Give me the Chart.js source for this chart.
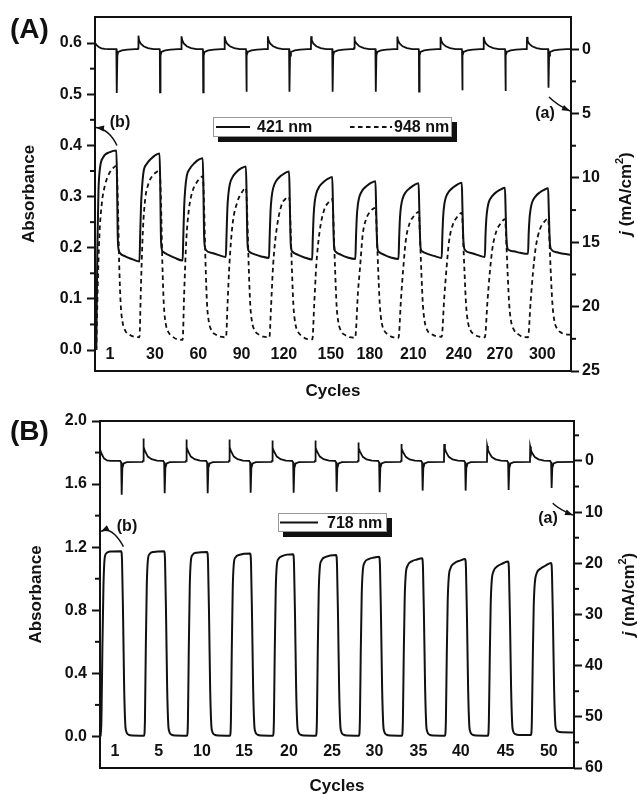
<!DOCTYPE html>
<html>
<head>
<meta charset="utf-8">
<script src="https://cdn.jsdelivr.net/npm/chart.js@4.4.0/dist/chart.umd.min.js"></script>
<style>
  html, body { margin: 0; padding: 0; background: #fff; }
  #wrapA { position: absolute; left: 0; top: 0; width: 637px; height: 400px; }
  #wrapB { position: absolute; left: 0; top: 400px; width: 637px; height: 395px; }
</style>
</head>
<body>
<div id="wrapA"><canvas id="chartA" width="637" height="400"></canvas></div>
<div id="wrapB"><canvas id="chartB" width="637" height="395"></canvas></div>

<script>
// ---- panel A: 421 / 948 nm, time in s (40 s per cycle) ----
const absTicksA = [0, 0.1, 0.2, 0.3, 0.4, 0.5, 0.6];
const absMinorA = [0.05, 0.15, 0.25, 0.35, 0.45, 0.55];
const jTicksA = [0, 5, 10, 15, 20, 25];
const jMinorA = [2.5, 7.5, 12.5, 17.5, 22.5];
const cycleLabelsA = ['1', '30', '60', '90', '120', '150', '180', '210', '240', '270', '300'];
const cycleTimesA = [13.9, 55.6, 95.7, 135.8, 175, 218.5, 254.7, 294.9, 337, 375, 414.4];

const abs421 = [
  [1.2,0.0],[2.2,0.2],[3.2,0.31],[4.6,0.355],[7.4,0.376],[13.9,0.387],[19.8,0.39],
  [20.4,0.33],[21,0.23],[21.6,0.2],[23,0.19],[28,0.183],[34,0.178],[41.2,0.173],
  [41.8,0.22],[42.6,0.28],[43.6,0.318],[45,0.349],[48,0.364],[52,0.374],[56,0.381],[59.8,0.384],
  [60.4,0.33],[61,0.23],[61.6,0.2],[63,0.192],[68,0.186],[74,0.18],[81.2,0.175],
  [81.8,0.22],[82.6,0.28],[83.6,0.315],[85,0.34],[88,0.355],[92,0.365],[96,0.372],[99.8,0.375],
  [100.4,0.32],[101,0.23],[101.6,0.205],[103,0.195],[108,0.19],[114,0.186],[121.2,0.182],
  [121.8,0.22],[122.6,0.275],[123.6,0.305],[125,0.325],[128,0.34],[132,0.35],[136,0.356],[139.8,0.359],
  [140.4,0.31],[141,0.23],[141.6,0.2],[143,0.192],[148,0.187],[154,0.183],[161.2,0.18],
  [161.8,0.22],[162.6,0.27],[163.6,0.298],[165,0.316],[168,0.331],[172,0.34],[176,0.346],[179.8,0.349],
  [180.4,0.3],[181,0.23],[181.6,0.2],[183,0.192],[188,0.186],[194,0.181],[201.2,0.177],
  [201.8,0.22],[202.6,0.265],[203.6,0.29],[205,0.306],[208,0.32],[212,0.329],[216,0.335],[219.8,0.338],
  [220.4,0.29],[221,0.23],[221.6,0.2],[223,0.192],[228,0.186],[234,0.181],[241.2,0.178],
  [241.8,0.22],[242.6,0.262],[243.6,0.285],[245,0.3],[248,0.313],[252,0.321],[256,0.327],[259.8,0.33],
  [260.4,0.285],[261,0.23],[261.6,0.2],[263,0.192],[268,0.186],[274,0.181],[281.2,0.178],
  [281.8,0.22],[282.6,0.26],[283.6,0.282],[285,0.296],[288,0.309],[292,0.317],[296,0.323],[299.8,0.326],
  [300.4,0.28],[301,0.23],[301.6,0.2],[303,0.193],[308,0.188],[314,0.184],[321.2,0.18],
  [321.8,0.222],[322.6,0.262],[323.6,0.284],[325,0.298],[328,0.31],[332,0.318],[336,0.324],[339.8,0.327],
  [340.4,0.28],[341,0.23],[341.6,0.205],[343,0.195],[348,0.19],[354,0.186],[361.2,0.182],
  [361.8,0.225],[362.6,0.258],[363.6,0.277],[365,0.29],[368,0.301],[372,0.309],[376,0.314],[379.8,0.317],
  [380.4,0.275],[381,0.23],[381.6,0.205],[383,0.196],[388,0.193],[394,0.19],[401.2,0.188],
  [401.8,0.228],[402.6,0.258],[403.6,0.276],[405,0.289],[408,0.3],[412,0.308],[416,0.313],[419.8,0.316],
  [420.4,0.275],[421,0.23],[421.6,0.205],[423,0.196],[428,0.191],[434,0.188],[441,0.186]
];

const abs948 = [
  [1.2,0.0],[2.5,0.12],[4,0.22],[6.5,0.29],[9,0.32],[12,0.34],[16.5,0.355],[19.8,0.36],
  [20.4,0.345],[21.4,0.27],[22.4,0.17],[23.8,0.09],[25.5,0.055],[28,0.038],[32,0.03],[36,0.026],
  [41.2,0.025],[42.5,0.12],[44.4,0.235],[46.5,0.295],[49.5,0.325],[53,0.34],[57,0.348],[59.8,0.352],
  [60.4,0.337],[61.4,0.265],[62.4,0.17],[63.8,0.088],[65.5,0.052],[68,0.035],[72,0.026],[76,0.021],
  [81.2,0.02],[82.6,0.11],[84.6,0.215],[87,0.275],[90,0.308],[94,0.327],[97.5,0.336],[99.8,0.34],
  [100.4,0.325],[101.4,0.255],[102.4,0.17],[103.8,0.09],[105.5,0.055],[108,0.038],[112,0.03],[116,0.026],
  [121.4,0.025],[122.8,0.09],[124.6,0.17],[127.4,0.245],[132,0.29],[136,0.308],[139.8,0.317],
  [140.4,0.302],[141.4,0.24],[142.4,0.165],[143.8,0.09],[145.5,0.055],[148,0.038],[152,0.03],[156,0.026],
  [161.6,0.025],[163,0.08],[165,0.165],[168,0.232],[172.6,0.282],[176.7,0.296],[179.8,0.3],
  [180.4,0.286],[181.4,0.225],[182.4,0.16],[183.8,0.088],[185.5,0.053],[188,0.036],[192,0.027],[196,0.022],
  [201.4,0.021],[203,0.085],[205,0.165],[208,0.23],[212,0.272],[216,0.288],[219.8,0.295],
  [220.4,0.28],[221.4,0.22],[222.4,0.16],[223.8,0.088],[225.5,0.054],[228,0.037],[232,0.029],[236,0.025],
  [241,0.024],[243.7,0.115],[245.6,0.163],[248,0.225],[251,0.255],[254.8,0.27],[259.8,0.278],
  [260.4,0.265],[261.4,0.21],[262.4,0.155],[263.8,0.09],[265.5,0.055],[268,0.038],[272,0.03],[276,0.025],
  [281.2,0.024],[283.5,0.1],[285.6,0.16],[288,0.215],[291.5,0.248],[295.5,0.262],[299.8,0.27],
  [300.4,0.257],[301.4,0.205],[302.4,0.15],[303.8,0.088],[305.5,0.055],[308,0.038],[312,0.031],[316,0.027],
  [321.2,0.026],[323.5,0.1],[325.6,0.158],[328,0.212],[331.5,0.245],[335.5,0.26],[339.8,0.268],
  [340.4,0.255],[341.4,0.2],[342.4,0.15],[343.8,0.088],[345.5,0.055],[348,0.038],[352,0.03],[356,0.026],
  [361.2,0.025],[363.6,0.095],[365.8,0.152],[368.3,0.2],[372,0.233],[376,0.248],[379.8,0.256],
  [380.4,0.244],[381.4,0.195],[382.4,0.145],[383.8,0.088],[385.5,0.056],[388,0.04],[392,0.031],[396,0.026],
  [401.2,0.025],[403.6,0.095],[405.8,0.152],[408.3,0.2],[412,0.235],[416,0.25],[419.8,0.257],
  [420.4,0.245],[421.4,0.195],[422.4,0.145],[423.8,0.09],[425.5,0.058],[428,0.042],[432,0.034],[436,0.031],[441,0.03]
];

// current density, mA/cm2 (right axis, reversed)
const currentA = [
  [0,-0.5],[1.5,-0.32],[3.5,-0.17],[6,-0.07],[9,-0.02],[13,0],
  [19.8,0],[20.05,0.1],[20.25,3.4],[20.7,0.5],[21.5,0.22],[25,0.1],[30,0.03],[37,0],
  [39.8,0],[40.05,-0.1],[40.25,-1.05],[40.8,-0.7],[42.2,-0.45],[45,-0.23],[49,-0.08],[54,0],
  [59.8,0],[60.05,0.1],[60.25,3.35],[60.7,0.5],[61.5,0.22],[65,0.1],[70,0.03],[77,0],
  [79.8,0],[80.05,-0.1],[80.25,-1.0],[80.8,-0.7],[82.2,-0.45],[85,-0.23],[89,-0.08],[94,0],
  [99.8,0],[100.05,0.1],[100.25,3.35],[100.7,0.5],[101.5,0.22],[105,0.1],[110,0.03],[117,0],
  [119.8,0],[120.05,-0.1],[120.25,-1.0],[120.8,-0.7],[122.2,-0.45],[125,-0.23],[129,-0.08],[134,0],
  [139.8,0],[140.05,0.1],[140.25,3.3],[140.7,0.5],[141.5,0.22],[145,0.1],[150,0.03],[157,0],
  [159.8,0],[160.05,-0.1],[160.25,-1.0],[160.8,-0.7],[162.2,-0.45],[165,-0.23],[169,-0.08],[174,0],
  [179.8,0],[180.05,0.1],[180.25,3.3],[180.7,0.5],[181.5,0.22],[185,0.1],[190,0.03],[197,0],
  [199.8,0],[200.05,-0.1],[200.25,-1.0],[200.8,-0.7],[202.2,-0.45],[205,-0.23],[209,-0.08],[214,0],
  [219.8,0],[220.05,0.1],[220.25,3.3],[220.7,0.5],[221.5,0.22],[225,0.1],[230,0.03],[237,0],
  [239.8,0],[240.05,-0.1],[240.25,-0.98],[240.8,-0.68],[242.2,-0.44],[245,-0.22],[249,-0.08],[254,0],
  [259.8,0],[260.05,0.1],[260.25,3.3],[260.7,0.5],[261.5,0.22],[265,0.1],[270,0.03],[277,0],
  [279.8,0],[280.05,-0.1],[280.25,-0.98],[280.8,-0.68],[282.2,-0.44],[285,-0.22],[289,-0.08],[294,0],
  [299.8,0],[300.05,0.1],[300.25,3.3],[300.7,0.5],[301.5,0.22],[305,0.1],[310,0.03],[317,0],
  [319.8,0],[320.05,-0.1],[320.25,-0.95],[320.8,-0.66],[322.2,-0.43],[325,-0.22],[329,-0.08],[334,0],
  [339.8,0],[340.05,0.1],[340.25,3.2],[340.7,0.5],[341.5,0.22],[345,0.1],[350,0.03],[357,0],
  [359.8,0],[360.05,-0.1],[360.25,-0.95],[360.8,-0.66],[362.2,-0.43],[365,-0.22],[369,-0.08],[374,0],
  [379.8,0],[380.05,0.1],[380.25,3.25],[380.7,0.5],[381.5,0.22],[385,0.1],[390,0.03],[397,0],
  [399.8,0],[400.05,-0.1],[400.25,-0.95],[400.8,-0.66],[402.2,-0.43],[405,-0.22],[409,-0.08],[414,0],
  [419.8,0],[420.05,0.1],[420.25,3.0],[420.7,0.5],[421.5,0.22],[425,0.1],[430,0.03],[437,0],[441,0]
];

// ---- panel B: 718 nm ----
const absTicksB = [0, 0.4, 0.8, 1.2, 1.6, 2.0];
const absMinorB = [0.2, 0.6, 1.0, 1.4, 1.8];
const jTicksB = [0, 10, 20, 30, 40, 50, 60];
const jMinorB = [-5, 5, 15, 25, 35, 45, 55];
const cycleLabelsB = ['1', '5', '10', '15', '20', '25', '30', '35', '40', '45', '50'];
const cycleTimesB = [14, 54.6, 94.9, 134, 175.8, 215.9, 255.3, 296.3, 335.7, 377.3, 417.6];

const abs718 = [
  [0.5,0.0],[1.3,0.1],[2.2,0.55],[3.2,0.95],[4.2,1.12],[5.7,1.16],[9,1.172],[19.6,1.175],
  [20.5,1.115],[21.5,0.75],[22.5,0.3],[23.5,0.08],[24.5,0.03],[26.5,0.012],[30,0.006],
  [41,0.005],[41.8,0.1],[42.6,0.55],[43.5,0.95],[44.5,1.115],[46,1.155],[50,1.17],[59.6,1.175],
  [60.5,1.115],[61.5,0.75],[62.5,0.3],[63.5,0.08],[64.5,0.03],[66.5,0.012],[70,0.006],
  [81,0.005],[81.8,0.1],[82.6,0.55],[83.5,0.95],[84.5,1.11],[86,1.15],[90,1.165],[99.6,1.17],
  [100.5,1.11],[101.5,0.75],[102.5,0.3],[103.5,0.08],[104.5,0.03],[106.5,0.012],[110,0.006],
  [121,0.005],[121.8,0.1],[122.6,0.55],[123.5,0.94],[124.5,1.095],[126,1.135],[130,1.152],[139.6,1.16],
  [140.5,1.1],[141.5,0.74],[142.5,0.3],[143.5,0.08],[144.5,0.03],[146.5,0.012],[150,0.006],
  [161,0.005],[161.8,0.1],[162.6,0.55],[163.5,0.93],[164.5,1.085],[166,1.125],[170,1.145],[179.6,1.155],
  [180.5,1.095],[181.5,0.74],[182.5,0.3],[183.5,0.08],[184.5,0.03],[186.5,0.012],[190,0.006],
  [201,0.005],[201.8,0.1],[202.6,0.54],[203.5,0.92],[204.5,1.07],[206,1.115],[210,1.138],[219.6,1.15],
  [220.5,1.09],[221.5,0.74],[222.5,0.3],[223.5,0.08],[224.5,0.03],[226.5,0.012],[230,0.006],
  [241,0.005],[241.8,0.1],[242.6,0.53],[243.5,0.9],[244.5,1.05],[246,1.1],[250,1.125],[255,1.134],[259.6,1.14],
  [260.5,1.08],[261.5,0.73],[262.5,0.3],[263.5,0.08],[264.5,0.03],[266.5,0.012],[270,0.006],
  [281,0.005],[281.8,0.1],[282.6,0.52],[283.5,0.88],[284.5,1.03],[286,1.08],[290,1.11],[295,1.122],[299.6,1.13],
  [300.5,1.07],[301.5,0.72],[302.5,0.3],[303.5,0.08],[304.5,0.03],[306.5,0.012],[310,0.006],
  [321,0.005],[321.8,0.1],[322.6,0.5],[323.5,0.86],[324.5,1.01],[326,1.065],[330,1.1],[335,1.115],[339.6,1.125],
  [340.5,1.065],[341.5,0.72],[342.5,0.3],[343.5,0.08],[344.5,0.03],[346.5,0.012],[350,0.006],
  [361,0.005],[361.8,0.1],[362.6,0.48],[363.5,0.84],[364.5,0.99],[366,1.045],[370,1.08],[375,1.098],[379.6,1.11],
  [380.5,1.05],[381.5,0.71],[382.5,0.3],[383.5,0.08],[384.5,0.032],[386.5,0.015],[390,0.01],
  [401,0.01],[401.8,0.1],[402.6,0.47],[403.5,0.82],[404.5,0.97],[406,1.03],[410,1.065],[415,1.085],[419.6,1.1],
  [420.5,1.04],[421.5,0.7],[422.5,0.3],[423.5,0.09],[424.5,0.045],[426.5,0.03],[430,0.026],[441,0.025]
];

const currentB = [
  [0,-2.2],[1.9,-1.2],[3.7,-0.5],[6.5,-0.1],[10,0],
  [18.8,0],[19.7,0.3],[20.05,1.5],[20.3,6.6],[20.8,1.4],[22,0.5],[25,0.25],[39.6,0.2],
  [40.05,0],[40.25,-4.4],[40.9,-2.7],[41.8,-1.95],[44.5,-0.85],[48,-0.33],[53,-0.05],[58,0],
  [58.8,0],[59.7,0.3],[60.05,1.5],[60.3,6.3],[60.8,1.4],[62,0.5],[65,0.25],[79.6,0.2],
  [80.05,0],[80.25,-4.2],[80.9,-2.7],[81.8,-1.95],[84.5,-0.85],[88,-0.33],[93,-0.05],[98,0],
  [98.8,0],[99.7,0.3],[100.05,1.5],[100.3,6.3],[100.8,1.4],[102,0.5],[105,0.25],[119.6,0.2],
  [120.05,0],[120.25,-4.2],[120.9,-2.7],[121.8,-1.95],[124.5,-0.85],[128,-0.33],[133,-0.05],[138,0],
  [138.8,0],[139.7,0.3],[140.05,1.5],[140.3,6.2],[140.8,1.4],[142,0.5],[145,0.25],[159.6,0.2],
  [160.05,0],[160.25,-4.0],[160.9,-2.6],[161.8,-1.9],[164.5,-0.85],[168,-0.33],[173,-0.05],[178,0],
  [178.8,0],[179.7,0.3],[180.05,1.5],[180.3,6.2],[180.8,1.4],[182,0.5],[185,0.25],[199.6,0.2],
  [200.05,0],[200.25,-4.0],[200.9,-2.6],[201.8,-1.9],[204.5,-0.85],[208,-0.33],[213,-0.05],[218,0],
  [218.8,0],[219.7,0.3],[220.05,1.5],[220.3,6.0],[220.8,1.4],[222,0.5],[225,0.25],[239.6,0.2],
  [240.05,0],[240.25,-3.6],[240.9,-2.5],[241.8,-1.85],[244.5,-0.8],[248,-0.3],[253,-0.05],[258,0],
  [258.8,0],[259.7,0.3],[260.05,1.5],[260.3,6.1],[260.8,1.4],[262,0.5],[265,0.25],[279.6,0.2],
  [280.05,0],[280.25,-3.3],[280.9,-2.4],[281.8,-1.8],[284.5,-0.8],[288,-0.3],[293,-0.05],[298,0],
  [298.8,0],[299.7,0.3],[300.05,1.5],[300.3,5.8],[300.8,1.4],[302,0.5],[305,0.25],[319.6,0.2],
  [320.05,0],[320.25,-3.3],[320.9,-2.4],[321.8,-1.8],[324.5,-0.8],[328,-0.3],[333,-0.05],[338,0],
  [338.8,0],[339.7,0.3],[340.05,1.5],[340.3,5.8],[340.8,1.4],[342,0.5],[345,0.25],[359.6,0.2],
  [360.05,0],[360.25,-2.9],[360.9,-2.2],[361.8,-1.7],[364.5,-0.75],[368,-0.3],[373,-0.05],[378,0],
  [378.8,0],[379.7,0.3],[380.05,1.5],[380.3,5.7],[380.8,1.4],[382,0.5],[385,0.25],[399.6,0.2],
  [400.05,0],[400.25,-2.8],[400.9,-2.15],[401.8,-1.65],[404.5,-0.75],[408,-0.3],[413,-0.05],[418,0],
  [418.8,0],[419.7,0.3],[420.05,1.5],[420.3,5.3],[420.8,1.4],[422,0.5],[425,0.25],[441,0.2]
];

const ink = '#111';
const family = '"Liberation Sans", Arial, Helvetica, sans-serif';
const toXY = pts => pts.map(([x, y]) => ({ x, y }));

// frame, minor ticks, cycle labels, legend box, (a)/(b) arrows, panel letter, right title
const panelDecor = {
  id: 'panelDecor',
  afterDraw(chart, args, o) {
    const { ctx, chartArea: ca, scales } = chart;
    const seg = (x0, y0, x1, y1) => { ctx.beginPath(); ctx.moveTo(x0, y0); ctx.lineTo(x1, y1); ctx.stroke(); };
    ctx.save();
    ctx.strokeStyle = ink;
    ctx.fillStyle = ink;

    ctx.lineWidth = 2;
    ctx.strokeRect(ca.left, ca.top, ca.right - ca.left, ca.bottom - ca.top);

    o.minorLeft.forEach(v => { const y = scales.yAbs.getPixelForValue(v); seg(ca.left - 5, y, ca.left, y); });
    o.minorRight.forEach(v => { const y = scales.yJ.getPixelForValue(v); seg(ca.right, y, ca.right + 5, y); });

    ctx.font = `bold 16px ${family}`;
    ctx.textAlign = 'center';
    ctx.textBaseline = 'middle';
    o.cycleLabels.forEach((s, i) => ctx.fillText(s, scales.x.getPixelForValue(o.cycleTimes[i]), ca.bottom - 16));

    // legend with drop shadow
    const lg = o.legend;
    ctx.fillRect(lg.x + 5, lg.y + 5, lg.w, lg.h);
    ctx.fillStyle = '#fff';
    ctx.fillRect(lg.x, lg.y, lg.w, lg.h);
    ctx.strokeStyle = '#999';
    ctx.lineWidth = 1;
    ctx.strokeRect(lg.x + 0.5, lg.y + 0.5, lg.w - 1, lg.h - 1);
    const cy = lg.y + lg.h / 2;
    chart.data.datasets.filter(d => d.inLegend).forEach((d, i) => {
      const it = lg.items[i];
      ctx.strokeStyle = d.borderColor;
      ctx.lineWidth = d.borderWidth;
      ctx.setLineDash(d.borderDash || []);
      seg(it[0], cy, it[1], cy);
      ctx.setLineDash([]);
      ctx.fillStyle = ink;
      ctx.textAlign = 'left';
      ctx.fillText(d.label, it[2], cy + 1);
    });

    // (a) / (b) arrows
    ctx.strokeStyle = ink;
    ctx.fillStyle = ink;
    o.notes.forEach(n => {
      ctx.textAlign = 'center';
      ctx.font = `bold 16px ${family}`;
      ctx.fillText(n.text, n.tx, n.ty);
      const tx = n.axis === 'yAbs' ? ca.left + 1 : ca.right - 1;
      const ty = scales[n.axis].getPixelForValue(n.value);
      ctx.lineWidth = 1.5;
      ctx.beginPath();
      ctx.moveTo(n.from[0], n.from[1]);
      ctx.quadraticCurveTo(n.ctrl[0], n.ctrl[1], tx, ty);
      ctx.stroke();
      const a = Math.atan2(ty - n.ctrl[1], tx - n.ctrl[0]);
      const bx = tx - 8 * Math.cos(a), by = ty - 8 * Math.sin(a);
      ctx.beginPath();
      ctx.moveTo(tx, ty);
      ctx.lineTo(bx - 3 * Math.sin(a), by + 3 * Math.cos(a));
      ctx.lineTo(bx + 3 * Math.sin(a), by - 3 * Math.cos(a));
      ctx.closePath();
      ctx.fill();
    });

    // panel letter
    ctx.font = `bold 28px ${family}`;
    ctx.textAlign = 'left';
    ctx.fillText(o.letter, 10, o.letterY);

    // right axis title: j (mA/cm2), j italic, 2 superscript
    const parts = [
      { t: 'j', f: `italic bold 17px ${family}`, dy: 0 },
      { t: ' (mA/cm', f: `bold 17px ${family}`, dy: 0 },
      { t: '2', f: `bold 11px ${family}`, dy: -6 },
      { t: ')', f: `bold 17px ${family}`, dy: 0 }
    ];
    let w = 0;
    parts.forEach(p => { ctx.font = p.f; p.w = ctx.measureText(p.t).width; w += p.w; });
    ctx.translate(ca.right + o.jTitleDx, (ca.top + ca.bottom) / 2);
    ctx.rotate(-Math.PI / 2);
    ctx.textAlign = 'left';
    let x = -w / 2;
    parts.forEach(p => { ctx.font = p.f; ctx.fillText(p.t, x, p.dy); x += p.w; });
    ctx.restore();
  }
};

function buildPanel(id, p) {
  const tickFont = { family, size: 16, weight: 'bold' };
  const titleFont = { family, size: 17, weight: 'bold', lineHeight: 1 };
  const lineBase = { borderColor: ink, pointRadius: 0, fill: false, cubicInterpolationMode: 'monotone' };
  const datasets = p.series.map(s => Object.assign({}, lineBase, s, { data: toXY(s.data) }));
  return new Chart(document.getElementById(id), {
    type: 'line',
    data: { datasets },
    options: {
      responsive: false,
      animation: false,
      devicePixelRatio: 1,
      layout: { padding: { top: p.top, left: 0, right: 0, bottom: 0 } },
      plugins: { legend: { display: false }, tooltip: { enabled: false }, panelDecor: p.decor },
      scales: {
        x: {
          type: 'linear', min: 0, max: 441,
          ticks: { display: false }, grid: { display: false }, border: { display: false },
          title: { display: true, text: 'Cycles', color: ink, font: titleFont, padding: { top: 0, bottom: p.xTitlePad } },
          afterFit: s => { s.height = p.xHeight; }
        },
        yAbs: {
          position: 'left', min: p.absMin, max: p.absMax,
          afterBuildTicks: s => { s.ticks = p.absTicks.map(v => ({ value: v })); },
          ticks: { color: ink, font: tickFont, padding: 5, callback: v => v.toFixed(1) },
          grid: { drawOnChartArea: false, tickLength: 8, tickWidth: 2, tickColor: ink },
          border: { display: false },
          title: { display: true, text: 'Absorbance', color: ink, font: titleFont, padding: { top: p.absTitlePad, bottom: 0 } },
          afterFit: s => { s.width = p.leftWidth; }
        },
        yJ: {
          position: 'right', reverse: true, min: p.jMin, max: p.jMax,
          afterBuildTicks: s => { s.ticks = p.jTicks.map(v => ({ value: v })); },
          ticks: { color: ink, font: tickFont, padding: 3, callback: v => String(v) },
          grid: { drawOnChartArea: false, tickLength: 8, tickWidth: 2, tickColor: ink },
          border: { display: false },
          afterFit: s => { s.width = p.rightWidth; }
        }
      }
    },
    plugins: [panelDecor]
  });
}

buildPanel('chartA', {
  top: 17, xHeight: 29, xTitlePad: 0.5, leftWidth: 95, rightWidth: 66, absTitlePad: 20.5,
  absMin: -0.041, absMax: 0.651, absTicks: absTicksA,
  jMin: -2.5, jMax: 25, jTicks: jTicksA,
  series: [
    { label: '421 nm', data: abs421, yAxisID: 'yAbs', borderWidth: 2, inLegend: true },
    { label: '948 nm', data: abs948, yAxisID: 'yAbs', borderWidth: 1.8, borderDash: [4.5, 3.5], inLegend: true },
    { label: 'j', data: currentA, yAxisID: 'yJ', borderWidth: 1.8, cubicInterpolationMode: 'default', tension: 0 }
  ],
  decor: {
    minorLeft: absMinorA, minorRight: jMinorA,
    cycleLabels: cycleLabelsA, cycleTimes: cycleTimesA,
    legend: { x: 213, y: 117, w: 239, h: 20, items: [[216, 250, 257], [350, 392, 394]] },
    notes: [
      { text: '(b)', tx: 120, ty: 123, from: [117, 145.5], ctrl: [109, 129], axis: 'yAbs', value: 0.435 },
      { text: '(a)', tx: 545, ty: 114, from: [549, 97], ctrl: [557, 105], axis: 'yJ', value: 4.8 }
    ],
    letter: '(A)', letterY: 30, jTitleDx: 55
  }
});

buildPanel('chartB', {
  top: 21, xHeight: 27, xTitlePad: 0, leftWidth: 100, rightWidth: 63, absTitlePad: 27.5,
  absMin: -0.2, absMax: 2.0, absTicks: absTicksB,
  jMin: -7.8, jMax: 60, jTicks: jTicksB,
  series: [
    { label: '718 nm', data: abs718, yAxisID: 'yAbs', borderWidth: 2, inLegend: true },
    { label: 'j', data: currentB, yAxisID: 'yJ', borderWidth: 1.8, cubicInterpolationMode: 'default', tension: 0 }
  ],
  decor: {
    minorLeft: absMinorB, minorRight: jMinorB,
    cycleLabels: cycleLabelsB, cycleTimes: cycleTimesB,
    legend: { x: 278, y: 113, w: 109, h: 19, items: [[280, 318, 327]] },
    notes: [
      { text: '(b)', tx: 127, ty: 127, from: [123.5, 146.7], ctrl: [112, 126], axis: 'yAbs', value: 1.3 },
      { text: '(a)', tx: 548, ty: 119, from: [552.7, 103.3], ctrl: [560, 110], axis: 'yJ', value: 10.6 }
    ],
    letter: '(B)', letterY: 32, jTitleDx: 55
  }
});
</script>
</body>
</html>
